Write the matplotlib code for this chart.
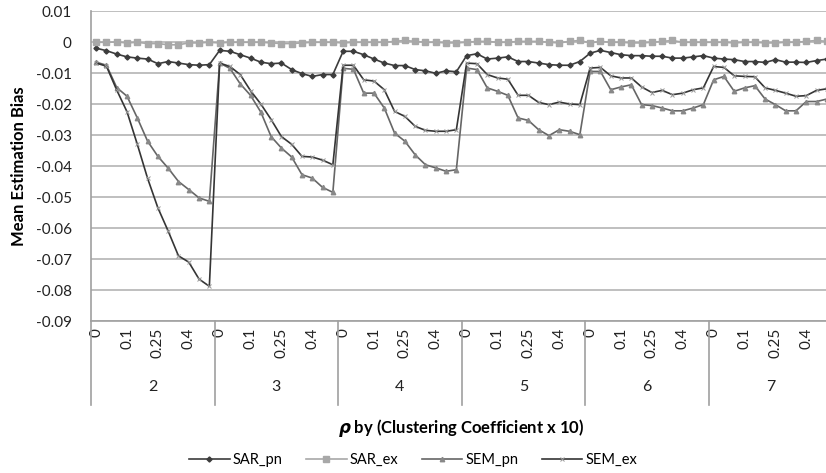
import matplotlib
matplotlib.use("Agg")
import matplotlib.pyplot as plt
import numpy as np

# categories: rho values inside each clustering-coefficient group
rho = ["0", "0.01", "0.05", "0.1", "0.15", "0.2", "0.25", "0.3", "0.35", "0.4", "0.45", "0.5"]
groups = ["2", "3", "4", "5", "6", "7"]
shown_rho = ["0", "0.1", "0.25", "0.4"]

# mean estimation bias, one row per group
sar_pn = [
    [-0.0020, -0.0028, -0.0039, -0.0048, -0.0052, -0.0055, -0.0070, -0.0063, -0.0068, -0.0073, -0.0075, -0.0073],
    [-0.0027, -0.0030, -0.0041, -0.0052, -0.0065, -0.0070, -0.0068, -0.0089, -0.0102, -0.0111, -0.0105, -0.0105],
    [-0.0030, -0.0030, -0.0041, -0.0055, -0.0068, -0.0076, -0.0076, -0.0089, -0.0093, -0.0101, -0.0093, -0.0096],
    [-0.0044, -0.0038, -0.0055, -0.0052, -0.0048, -0.0063, -0.0063, -0.0068, -0.0073, -0.0075, -0.0075, -0.0063],
    [-0.0036, -0.0027, -0.0034, -0.0041, -0.0044, -0.0044, -0.0046, -0.0046, -0.0052, -0.0052, -0.0048, -0.0044],
    [-0.0052, -0.0055, -0.0057, -0.0063, -0.0063, -0.0066, -0.0057, -0.0065, -0.0065, -0.0066, -0.0060, -0.0055],
]
sar_ex = [
    [-0.0001, -0.0001, 0.0000, -0.0003, -0.0001, -0.0005, -0.0005, -0.0009, -0.0009, -0.0003, -0.0003, -0.0001],
    [-0.0003, -0.0001, -0.0001, -0.0001, -0.0001, -0.0003, -0.0005, -0.0005, -0.0003, -0.0001, -0.0001, -0.0001],
    [-0.0003, -0.0001, -0.0001, -0.0001, -0.0001, 0.0002, 0.0005, 0.0002, -0.0001, -0.0001, -0.0003, -0.0003],
    [-0.0001, 0.0002, 0.0002, -0.0001, -0.0001, 0.0002, 0.0002, 0.0002, -0.0001, -0.0003, 0.0002, 0.0005],
    [-0.0003, 0.0002, -0.0001, -0.0001, -0.0003, -0.0003, -0.0001, 0.0002, 0.0005, -0.0001, -0.0001, -0.0001],
    [-0.0001, -0.0001, -0.0003, -0.0001, -0.0001, -0.0003, -0.0003, -0.0001, -0.0001, 0.0002, 0.0005, 0.0002],
]
sem_pn = [
    [-0.0065, -0.0075, -0.0147, -0.0175, -0.0245, -0.0320, -0.0369, -0.0407, -0.0450, -0.0476, -0.0503, -0.0514],
    [-0.0068, -0.0085, -0.0135, -0.0172, -0.0226, -0.0305, -0.0342, -0.0371, -0.0428, -0.0439, -0.0469, -0.0485],
    [-0.0085, -0.0088, -0.0165, -0.0165, -0.0213, -0.0294, -0.0320, -0.0364, -0.0396, -0.0406, -0.0417, -0.0412],
    [-0.0084, -0.0089, -0.0148, -0.0159, -0.0172, -0.0245, -0.0253, -0.0283, -0.0302, -0.0283, -0.0288, -0.0299],
    [-0.0095, -0.0095, -0.0154, -0.0145, -0.0138, -0.0202, -0.0205, -0.0213, -0.0222, -0.0222, -0.0213, -0.0202],
    [-0.0122, -0.0111, -0.0159, -0.0148, -0.0141, -0.0184, -0.0202, -0.0222, -0.0222, -0.0192, -0.0192, -0.0184],
]
sem_ex = [
    [-0.0068, -0.0078, -0.0155, -0.0225, -0.0330, -0.0440, -0.0535, -0.0610, -0.0690, -0.0710, -0.0765, -0.0788],
    [-0.0068, -0.0079, -0.0105, -0.0157, -0.0200, -0.0250, -0.0305, -0.0330, -0.0369, -0.0371, -0.0381, -0.0396],
    [-0.0075, -0.0075, -0.0122, -0.0126, -0.0154, -0.0224, -0.0240, -0.0272, -0.0285, -0.0288, -0.0288, -0.0283],
    [-0.0068, -0.0070, -0.0105, -0.0116, -0.0120, -0.0172, -0.0172, -0.0195, -0.0202, -0.0194, -0.0200, -0.0202],
    [-0.0084, -0.0082, -0.0109, -0.0116, -0.0116, -0.0145, -0.0163, -0.0156, -0.0170, -0.0165, -0.0154, -0.0148],
    [-0.0079, -0.0082, -0.0109, -0.0111, -0.0112, -0.0148, -0.0156, -0.0165, -0.0175, -0.0173, -0.0156, -0.0151],
]

plt.rcParams["font.family"] = ["Lato", "DejaVu Sans"]
plt.rcParams["mathtext.fontset"] = "custom"
plt.rcParams["mathtext.it"] = "DejaVu Sans:italic:bold"

n_rho = len(rho)
x = np.arange(len(groups) * n_rho)

fig = plt.figure(figsize=(8.26, 4.73), dpi=100)
# the category area runs a little past the right edge of the canvas
ax = fig.add_axes([91 / 826, 1 - 321 / 473, 741 / 826, 310 / 473])

series = [
    ("SAR_pn", sar_pn, dict(color="#3c3c3c", marker="D", ms=2.6, mfc="#3c3c3c", mec="#3c3c3c", lw=1.2)),
    ("SAR_ex", sar_ex, dict(color="#a8a8a8", marker="s", ms=4.5, mfc="#a8a8a8", mec="#a8a8a8", lw=1.2)),
    ("SEM_pn", sem_pn, dict(color="#666666", marker="^", ms=3.2, mfc="#888888", mec="#888888", lw=1.2)),
    ("SEM_ex", sem_ex, dict(color="#353535", marker="x", ms=3.2, mew=0.7, mec="#9a9a9a", lw=1.2)),
]
for name, rows, style in series:
    ax.plot(x, np.concatenate(rows), label=name, clip_on=False, zorder=3, **style)

ax.set_ylim(-0.09, 0.01)
ax.set_xlim(-0.5, len(x) - 0.5)
ax.set_yticks(np.arange(-0.09, 0.0101, 0.01))
ax.yaxis.set_major_formatter(plt.FuncFormatter(lambda v, p: "0" if abs(v) < 1e-9 else f"{v:.2f}"))
ax.grid(axis="y", color="#b4b4b4", lw=1.2)
ax.set_axisbelow(True)
ax.tick_params(axis="y", length=0, pad=14, labelsize=11, colors="#222222")

for s in ["top", "right"]:
    ax.spines[s].set_visible(False)
for s in ["left", "bottom"]:
    ax.spines[s].set_color("#a0a0a0")
    ax.spines[s].set_linewidth(1.2)

# rho labels every third category
tick_pos = [g * n_rho + rho.index(r) for g in range(len(groups)) for r in shown_rho]
ax.set_xticks(tick_pos)
ax.set_xticklabels(shown_rho * len(groups), rotation=90, fontsize=11, color="#222222")
ax.tick_params(axis="x", length=0, pad=5)

# group separators and group labels below the axis
trans = ax.get_xaxis_transform()
for g in range(len(groups) + 1):
    ax.plot([g * n_rho - 0.5] * 2, [0, -84 / 310], transform=trans, color="#a0a0a0",
            lw=1.2, clip_on=False)
for g, name in enumerate(groups):
    ax.text(g * n_rho + (n_rho - 1) / 2, -66 / 310, name, transform=trans,
            ha="center", va="center", fontsize=11.5, color="#222222")

ax.set_ylabel("Mean Estimation Bias", fontsize=12, fontweight="bold")
ax.yaxis.set_label_coords(-64 / 741, 0.5)
fig.text(461 / 826, 1 - 428 / 473, r"$\rho$ by (Clustering Coefficient x 10)",
         ha="center", va="center", fontsize=12, fontweight="bold")

fig.legend(loc="center", bbox_to_anchor=(0.5, 1 - 460 / 473), ncol=4, frameon=False,
           fontsize=10.5, handlelength=2.8, columnspacing=1.6, handletextpad=0.2)

fig.savefig("out.png", dpi=100)
